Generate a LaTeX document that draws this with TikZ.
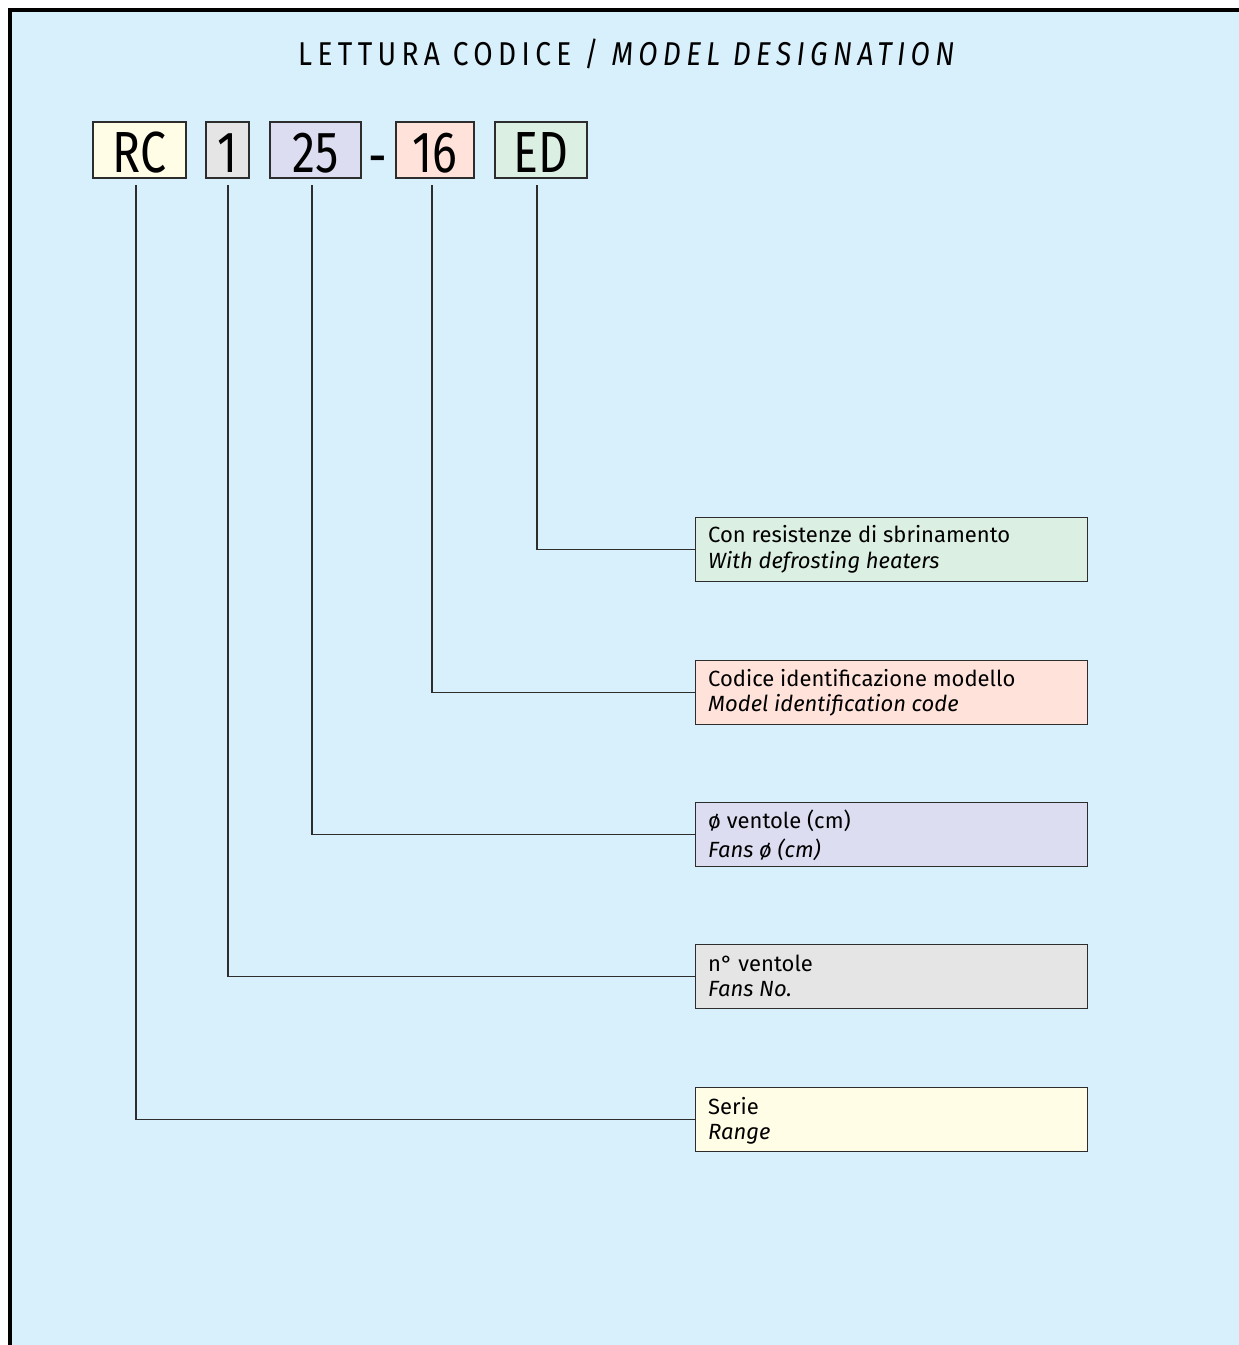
\documentclass[tikz,border=0pt]{standalone}
\usepackage{fontspec}
\setmainfont{Fira Sans}
\newfontfamily\codefont[FakeStretch=0.8]{Fira Sans}
\newfontfamily\titlefont[FakeStretch=0.85,LetterSpace=16.3]{Fira Sans}
\newfontfamily\lblfont{Fira Sans}
\definecolor{bgblue}{RGB}{216,240,252}
\definecolor{cyellow}{RGB}{255,253,230}
\definecolor{cgray}{RGB}{229,229,229}
\definecolor{clav}{RGB}{220,221,240}
\definecolor{cpeach}{RGB}{255,227,218}
\definecolor{cgreen}{RGB}{220,239,227}
\definecolor{edge}{RGB}{45,45,45}
\tikzset{
  codebox/.style={draw=edge, line width=1.3pt, inner sep=0pt, minimum height=56pt,
    text height=44pt, text depth=0pt, font=\codefont\fontsize{58}{58}\selectfont},
  lblbox/.style={draw=edge, line width=1.3pt, inner sep=0pt, minimum width=392pt,
    minimum height=64pt, anchor=north west},
  lbltext/.style={anchor=base west, inner sep=0pt, font=\lblfont\fontsize{22}{22}\selectfont},
  conn/.style={draw=edge, line width=1.5pt},
}
\begin{document}
\begin{tikzpicture}[x=1pt,y=-1pt]
\useasboundingbox (0,0) rectangle (1239,1345);
\fill[white] (0,0) rectangle (1239,1345);
\fill[bgblue] (10,10) rectangle (1239,1345);
\draw[line width=4.5pt] (10,1345) -- (10,10) -- (1239,10);

\node[anchor=base west, inner sep=0pt] (title) at (298,65)
  {\titlefont\fontsize{33}{33}\selectfont LETTURA CODICE / \itshape MODEL DESIGNATION};

% code boxes
\node[codebox, fill=cyellow, minimum width=93pt] (cRC) at (139.5,150) {RC};
\node[codebox, fill=cgray, minimum width=43pt] (c1) at (227.5,150) {1};
\node[codebox, fill=clav, minimum width=91pt] (c25) at (315.5,150) {25};
\node[inner sep=0pt, font=\codefont\fontsize{58}{58}\selectfont] (dash) at (378,166) {-};
\node[codebox, fill=cpeach, minimum width=78pt] (c16) at (435,150) {16};
\node[codebox, fill=cgreen, minimum width=92pt] (cED) at (541,150) {ED};

% label boxes
\node[lblbox, fill=cgreen] (lED) at (695,517) {};
\node[lbltext] (lEDa) at (708,542) {Con resistenze di sbrinamento};
\node[lbltext] (lEDb) at (708,568) {\itshape With defrosting heaters};

\node[lblbox, fill=cpeach] (l16) at (695,660) {};
\node[lbltext] (l16a) at (708,686) {Codice identificazione modello};
\node[lbltext] (l16b) at (708,711) {\itshape Model identification code};

\node[lblbox, fill=clav] (l25) at (695,802) {};
\node[lbltext] (l25a) at (708,828) {ø ventole (cm)};
\node[lbltext] (l25b) at (708,857) {\itshape Fans ø (cm)};

\node[lblbox, fill=cgray] (l1) at (695,944) {};
\node[lbltext] (l1a) at (708,971) {n° ventole};
\node[lbltext] (l1b) at (708,996) {\itshape Fans No.};

\node[lblbox, fill=cyellow] (lRC) at (695,1087) {};
\node[lbltext] (lRCa) at (708,1114) {Serie};
\node[lbltext] (lRCb) at (708,1139) {\itshape Range};

% connectors
\coordinate (tRC) at (136,185);
\coordinate (t1) at (228,185);
\coordinate (t25) at (312,185);
\coordinate (t16) at (432,185);
\coordinate (tED) at (537,185);
\draw[conn] (tED) |- (lED.west);
\draw[conn] (t16) |- (l16.west);
\draw[conn] (t25) |- (l25.west);
\draw[conn] (t1) |- (l1.west);
\draw[conn] (tRC) |- (lRC.west);
\end{tikzpicture}
\end{document}
